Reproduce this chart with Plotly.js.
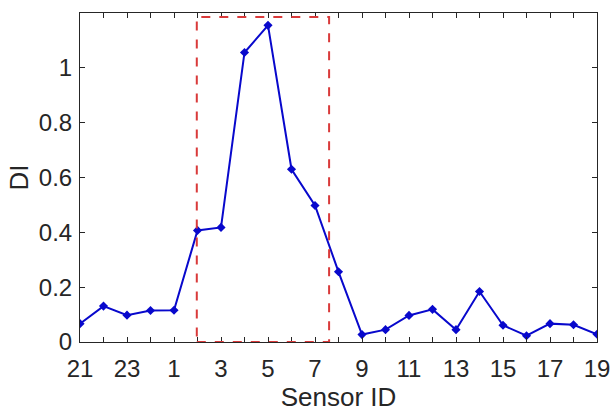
<!DOCTYPE html>
<html>
<head>
<meta charset="utf-8">
<script src="https://cdn.plot.ly/plotly-3.0.1.min.js"></script>
<style>html,body{margin:0;padding:0;background:#fff;}#chart{width:611px;height:416px;}</style>
</head>
<body>
<div id="chart"></div>
<script>
const sensorIds = ['21','22','23','24','1','2','3','4','5','6','7','8','9','10','11','12','13','14','15','16','17','18','19'];
const diValues = [0.067,0.131,0.098,0.115,0.116,0.407,0.418,1.056,1.155,0.630,0.498,0.256,0.027,0.045,0.097,0.119,0.045,0.184,0.061,0.023,0.067,0.063,0.028];
const yTickVals = [0, 0.2, 0.4, 0.6, 0.8, 1];
const yTickText = ['0', '0.2', '0.4', '0.6', '0.8', '1'];
const highlightStart = 4.97;   // index position of box left edge
const highlightEnd = 10.6;     // index position of box right edge
const highlightTop = 1.185;

const xIdx = sensorIds.map((_, i) => i);
const tickText = sensorIds.map((s, i) => (i % 2 === 0 ? s : ''));

const trace = {
  x: xIdx,
  y: diValues,
  mode: 'lines+markers',
  type: 'scatter',
  line: {color: '#0808cc', width: 2},
  marker: {symbol: 'diamond', size: 7, color: '#0808cc'},
  hoverinfo: 'x+y'
};

const fam = 'Liberation Sans, Arial, sans-serif';
const tickFont = {family: fam, size: 24, color: '#262626'};
const titleFont = {family: fam, size: 26, color: '#262626'};

const layout = {
  width: 611, height: 416,
  margin: {l: 80, r: 14, t: 13, b: 74},
  paper_bgcolor: '#ffffff', plot_bgcolor: '#ffffff',
  showlegend: false,
  font: tickFont,
  xaxis: {
    range: [0, 22],
    tickmode: 'array', tickvals: xIdx, ticktext: tickText,
    ticks: 'inside', ticklen: 5, tickwidth: 1, tickcolor: '#262626',
    showline: true, linecolor: '#262626', linewidth: 1, mirror: 'ticks',
    showgrid: false, zeroline: false,
    tickfont: tickFont, ticklabelstandoff: 5,
    title: {text: 'Sensor ID', font: titleFont, standoff: 6}
  },
  yaxis: {
    range: [0, 1.2],
    tickmode: 'array', tickvals: yTickVals, ticktext: yTickText,
    ticks: 'inside', ticklen: 5, tickwidth: 1, tickcolor: '#262626',
    showline: true, linecolor: '#262626', linewidth: 1, mirror: 'ticks',
    showgrid: false, zeroline: false,
    tickfont: tickFont, ticklabelstandoff: 2,
    title: {text: 'DI', font: titleFont, standoff: 2}
  },
  shapes: [{
    type: 'rect', xref: 'x', yref: 'y',
    x0: highlightStart, x1: highlightEnd, y0: 0, y1: highlightTop,
    line: {color: '#d93a3a', width: 2, dash: 'dash'},
    fillcolor: 'rgba(0,0,0,0)', layer: 'above'
  }]
};

Plotly.newPlot('chart', [trace], layout, {displayModeBar: false, staticPlot: true});
</script>
</body>
</html>
